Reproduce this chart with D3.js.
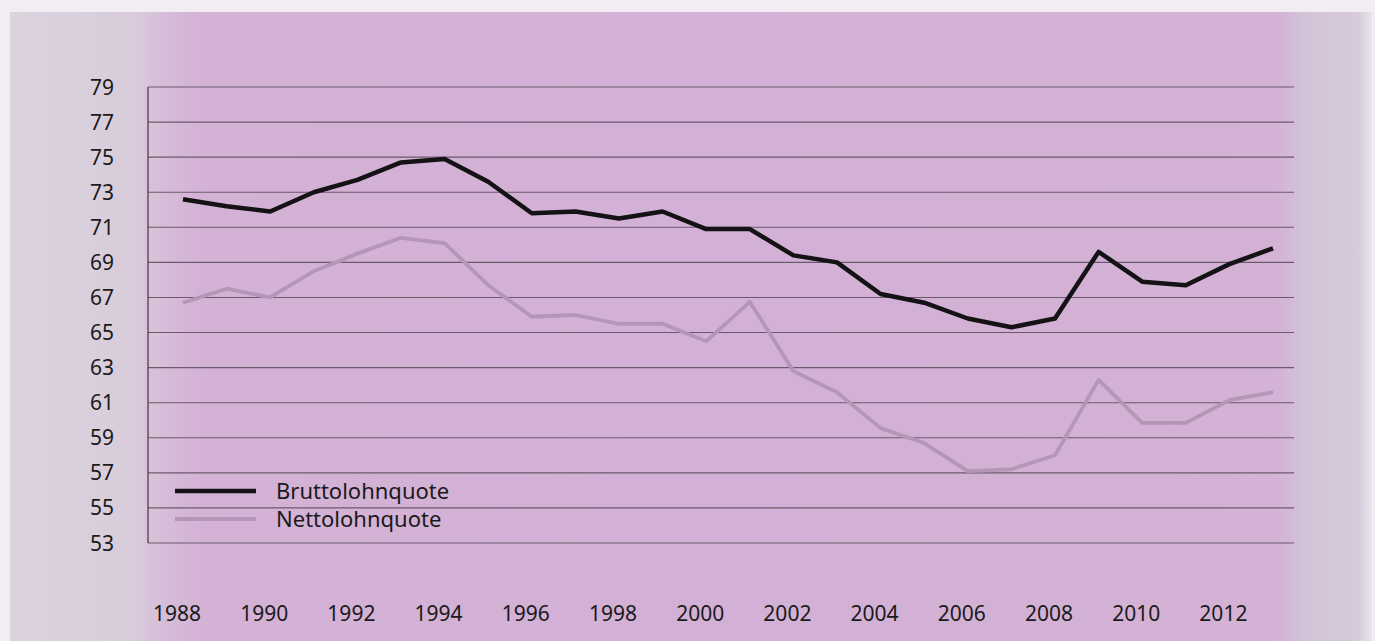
<!DOCTYPE html>
<html>
<head>
<meta charset="utf-8">
<script src="https://cdn.jsdelivr.net/npm/d3@7"></script>
<style>
  html, body { margin: 0; padding: 0; background: #f2ecf3; }
  svg { display: block; }
  text { font-family: "Noto Sans", sans-serif; fill: #1a1a1a; }
</style>
</head>
<body>
<svg id="chart" width="1375" height="641"></svg>
<script>
const years = [1988,1989,1990,1991,1992,1993,1994,1995,1996,1997,1998,1999,2000,2001,2002,2003,2004,2005,2006,2007,2008,2009,2010,2011,2012,2013];
const brutto = [72.6,72.2,71.9,73.0,73.7,74.7,74.9,73.6,71.8,71.9,71.5,71.9,70.9,70.9,69.4,69.0,67.2,66.7,65.8,65.3,65.8,69.6,67.9,67.7,68.9,69.8];
const netto  = [66.7,67.5,67.0,68.5,69.5,70.4,70.1,67.7,65.9,66.0,65.5,65.5,64.5,66.75,62.8,61.6,59.55,58.7,57.1,57.2,58.0,62.3,59.85,59.85,61.15,61.6];
const yTicks = [53,55,57,59,61,63,65,67,69,71,73,75,77,79];
const xTicks = [1988,1990,1992,1994,1996,1998,2000,2002,2004,2006,2008,2010,2012];
const seriesNames = ["Bruttolohnquote","Nettolohnquote"];

const svg = d3.select("#chart");
const defs = svg.append("defs");
const g1 = defs.append("linearGradient").attr("id","bg").attr("x1","0").attr("x2","1").attr("y1","0").attr("y2","0");
[[0,"#dcd3df"],[0.09,"#d8ccdb"],[0.115,"#d6bcd8"],[0.14,"#d4b2d6"],[0.5,"#d3b0d5"],[0.93,"#d3b2d5"],[0.95,"#d3c3d8"],[0.99,"#d6cbda"],[1,"#ebe4ee"]]
  .forEach(([o,c]) => g1.append("stop").attr("offset",o).attr("stop-color",c));
svg.append("rect").attr("x",10).attr("y",12).attr("width",1362).attr("height",629).attr("fill","url(#bg)");

const x = d3.scaleLinear().domain([1988, 2013]).range([183, 1273]);
const y = d3.scaleLinear().domain([53, 79]).range([543, 87]);
const plotLeft = 148, plotRight = 1294;

// gridlines
svg.append("g").selectAll("line").data(yTicks).join("line")
  .attr("x1", plotLeft).attr("x2", plotRight)
  .attr("y1", d => y(d)).attr("y2", d => y(d))
  .attr("stroke", "#6b5a6c").attr("stroke-width", 1.1);
// left axis line
svg.append("line").attr("x1", plotLeft).attr("x2", plotLeft).attr("y1", y(79)).attr("y2", y(53))
  .attr("stroke", "#4a404b").attr("stroke-width", 1.3);

// y labels
svg.append("g").selectAll("text").data(yTicks).join("text")
  .attr("x", 114).attr("y", d => y(d)).attr("dy", "0.36em")
  .attr("text-anchor", "end").attr("font-size", 21).text(d => d);

// x labels
svg.append("g").selectAll("text").data(xTicks).join("text")
  .attr("x", d => x(d) - 6).attr("y", 621)
  .attr("text-anchor", "middle").attr("font-size", 21).text(d => d);

const line = d3.line().x((d,i) => x(years[i])).y(d => y(d));
svg.append("path").datum(netto).attr("d", line)
  .attr("fill","none").attr("stroke","#b596b7").attr("stroke-width",3.8).attr("stroke-linejoin","round");
svg.append("path").datum(brutto).attr("d", line)
  .attr("fill","none").attr("stroke","#151215").attr("stroke-width",4.5).attr("stroke-linejoin","round");

// legend
const legend = svg.append("g");
const legItems = [{name: seriesNames[0], color:"#151215", w:4.5, yy:491},{name: seriesNames[1], color:"#b596b7", w:3.8, yy:519}];
legItems.forEach(it => {
  legend.append("line").attr("x1",175).attr("x2",256).attr("y1",it.yy).attr("y2",it.yy)
    .attr("stroke",it.color).attr("stroke-width",it.w);
  legend.append("text").attr("x",276).attr("y",it.yy).attr("dy","0.36em").attr("font-size",22).text(it.name);
});
</script>
</body>
</html>
